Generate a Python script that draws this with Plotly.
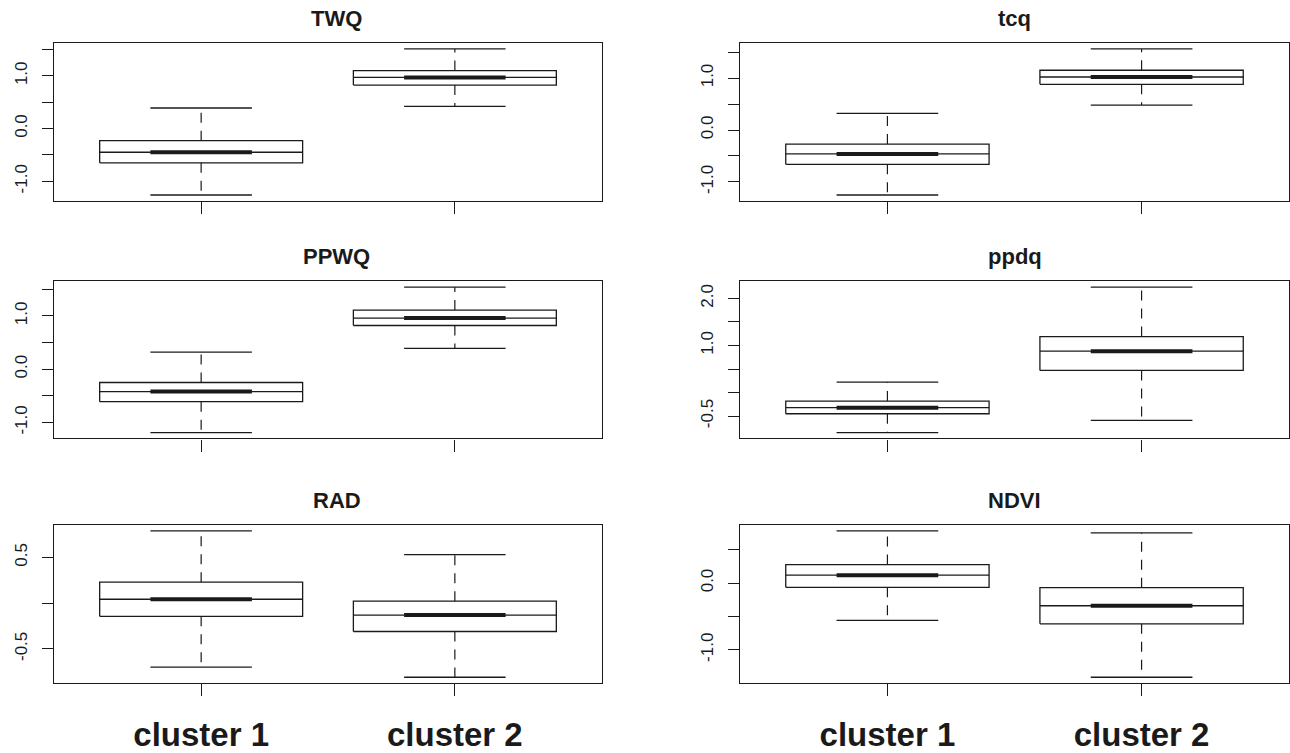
import plotly.graph_objects as go
from plotly.subplots import make_subplots

variables = ["TWQ", "tcq", "PPWQ", "ppdq", "RAD", "NDVI"]
clusters = ["cluster 1", "cluster 2"]
cluster_pos = [1, 2]

# box statistics per variable: [cluster 1, cluster 2]
lower_whisker = {
    "TWQ": [-1.26, 0.42], "tcq": [-1.25, 0.48], "PPWQ": [-1.19, 0.39],
    "ppdq": [-0.85, -0.59], "RAD": [-0.70, -0.81], "NDVI": [-0.56, -1.41],
}
q1 = {
    "TWQ": [-0.65, 0.825], "tcq": [-0.66, 0.88], "PPWQ": [-0.61, 0.82],
    "ppdq": [-0.45, 0.47], "RAD": [-0.144, -0.31], "NDVI": [-0.064, -0.61],
}
median = {
    "TWQ": [-0.45, 0.97], "tcq": [-0.46, 1.02], "PPWQ": [-0.42, 0.96],
    "ppdq": [-0.32, 0.88], "RAD": [0.043, -0.13], "NDVI": [0.118, -0.34],
}
q3 = {
    "TWQ": [-0.23, 1.10], "tcq": [-0.27, 1.15], "PPWQ": [-0.25, 1.11],
    "ppdq": [-0.18, 1.19], "RAD": [0.23, 0.022], "NDVI": [0.276, -0.07],
}
upper_whisker = {
    "TWQ": [0.39, 1.51], "tcq": [0.32, 1.56], "PPWQ": [0.32, 1.54],
    "ppdq": [0.22, 2.24], "RAD": [0.79, 0.53], "NDVI": [0.78, 0.75],
}
tick_vals = {
    "TWQ": [-1.0, -0.5, 0.0, 0.5, 1.0, 1.5],
    "tcq": [-1.0, -0.5, 0.0, 0.5, 1.0, 1.5],
    "PPWQ": [-1.0, -0.5, 0.0, 0.5, 1.0, 1.5],
    "ppdq": [-0.5, 0.0, 0.5, 1.0, 1.5, 2.0],
    "RAD": [-0.5, 0.0, 0.5],
    "NDVI": [-1.0, -0.5, 0.0, 0.5],
}
tick_text = {
    "TWQ": ["-1.0", "", "0.0", "", "1.0", ""],
    "tcq": ["-1.0", "", "0.0", "", "1.0", ""],
    "PPWQ": ["-1.0", "", "0.0", "", "1.0", ""],
    "ppdq": ["-0.5", "", "", "1.0", "", "2.0"],
    "RAD": ["-0.5", "", "0.5"],
    "NDVI": ["-1.0", "", "0.0", ""],
}

INK = "#1a1a1a"
BOX_HALF = 0.4
STAPLE_HALF = 0.2
FONT = "Liberation Sans, Arial, Helvetica, sans-serif"

fig = make_subplots(rows=3, cols=2)

x_domains = [[54 / 1290, 602 / 1290], [740 / 1290, 1289 / 1290]]
y_domains = [
    [1 - 202.7 / 753, 1 - 43.5 / 753],
    [1 - 442.5 / 753, 1 - 284 / 753],
    [1 - 689.5 / 753, 1 - 530 / 753],
]
title_x = [337 / 1290, 1015 / 1290]
title_y = [1 - 19 / 753, 1 - 259 / 753, 1 - 505 / 753]

for k, var in enumerate(variables):
    r, c = k // 2 + 1, k % 2 + 1
    for i, pos in enumerate(cluster_pos):
        lo, a, m, b, hi = (lower_whisker[var][i], q1[var][i], median[var][i],
                           q3[var][i], upper_whisker[var][i])
        # box outline
        fig.add_trace(go.Scatter(
            x=[pos - BOX_HALF, pos + BOX_HALF, pos + BOX_HALF, pos - BOX_HALF, pos - BOX_HALF],
            y=[a, a, b, b, a], mode="lines",
            line=dict(color=INK, width=1.3), hoverinfo="skip", showlegend=False),
            row=r, col=c)
        # thin median across the box
        fig.add_trace(go.Scatter(
            x=[pos - BOX_HALF, pos + BOX_HALF], y=[m, m], mode="lines",
            line=dict(color=INK, width=1.3), hoverinfo="skip", showlegend=False),
            row=r, col=c)
        # thick median core
        fig.add_trace(go.Scatter(
            x=[pos - STAPLE_HALF, pos + STAPLE_HALF], y=[m, m], mode="lines",
            line=dict(color=INK, width=4), hoverinfo="skip", showlegend=False),
            row=r, col=c)
        # dashed whiskers
        fig.add_trace(go.Scatter(
            x=[pos, pos, None, pos, pos], y=[b, hi, None, a, lo], mode="lines",
            line=dict(color=INK, width=1.2, dash="10px,8px"),
            hoverinfo="skip", showlegend=False), row=r, col=c)
        # staples
        fig.add_trace(go.Scatter(
            x=[pos - STAPLE_HALF, pos + STAPLE_HALF, None, pos - STAPLE_HALF, pos + STAPLE_HALF],
            y=[hi, hi, None, lo, lo], mode="lines",
            line=dict(color=INK, width=1.3), hoverinfo="skip", showlegend=False),
            row=r, col=c)

    ymin = min(lower_whisker[var])
    ymax = max(upper_whisker[var])
    pad = 0.04 * (ymax - ymin)
    bottom_row = (r == 3)
    fig.update_xaxes(
        domain=x_domains[c - 1], range=[0.42, 2.58],
        tickmode="array", tickvals=cluster_pos,
        ticktext=clusters if bottom_row else ["", ""],
        ticks="outside", ticklen=12, tickwidth=1.2, tickcolor=INK,
        ticklabelstandoff=10,
        tickfont=dict(family=FONT, size=33, color=INK, weight="bold"),
        showline=True, mirror=True, linecolor=INK, linewidth=1.3,
        showgrid=False, zeroline=False, fixedrange=True,
        row=r, col=c)
    fig.update_yaxes(
        domain=y_domains[r - 1], range=[ymin - pad, ymax + pad],
        tickmode="array", tickvals=tick_vals[var], ticktext=tick_text[var],
        tickangle=-90, ticks="outside", ticklen=11, tickwidth=1.2, tickcolor=INK,
        ticklabelstandoff=8,
        tickfont=dict(family=FONT, size=17, color=INK),
        showline=True, mirror=True, linecolor=INK, linewidth=1.3,
        showgrid=False, zeroline=False, fixedrange=True,
        row=r, col=c)
    fig.add_annotation(
        text=var, xref="paper", yref="paper",
        x=title_x[c - 1], y=title_y[r - 1], xanchor="center", yanchor="middle",
        showarrow=False, font=dict(family=FONT, size=22, color=INK, weight="bold"))

fig.update_layout(
    width=1290, height=753,
    margin=dict(l=0, r=0, t=0, b=0),
    paper_bgcolor="white", plot_bgcolor="white",
    showlegend=False,
)

fig.write_html(
    "out.html",
    config={"displayModeBar": False, "responsive": False},
    post_script="document.body.style.margin='0';document.body.style.overflow='hidden';",
)
